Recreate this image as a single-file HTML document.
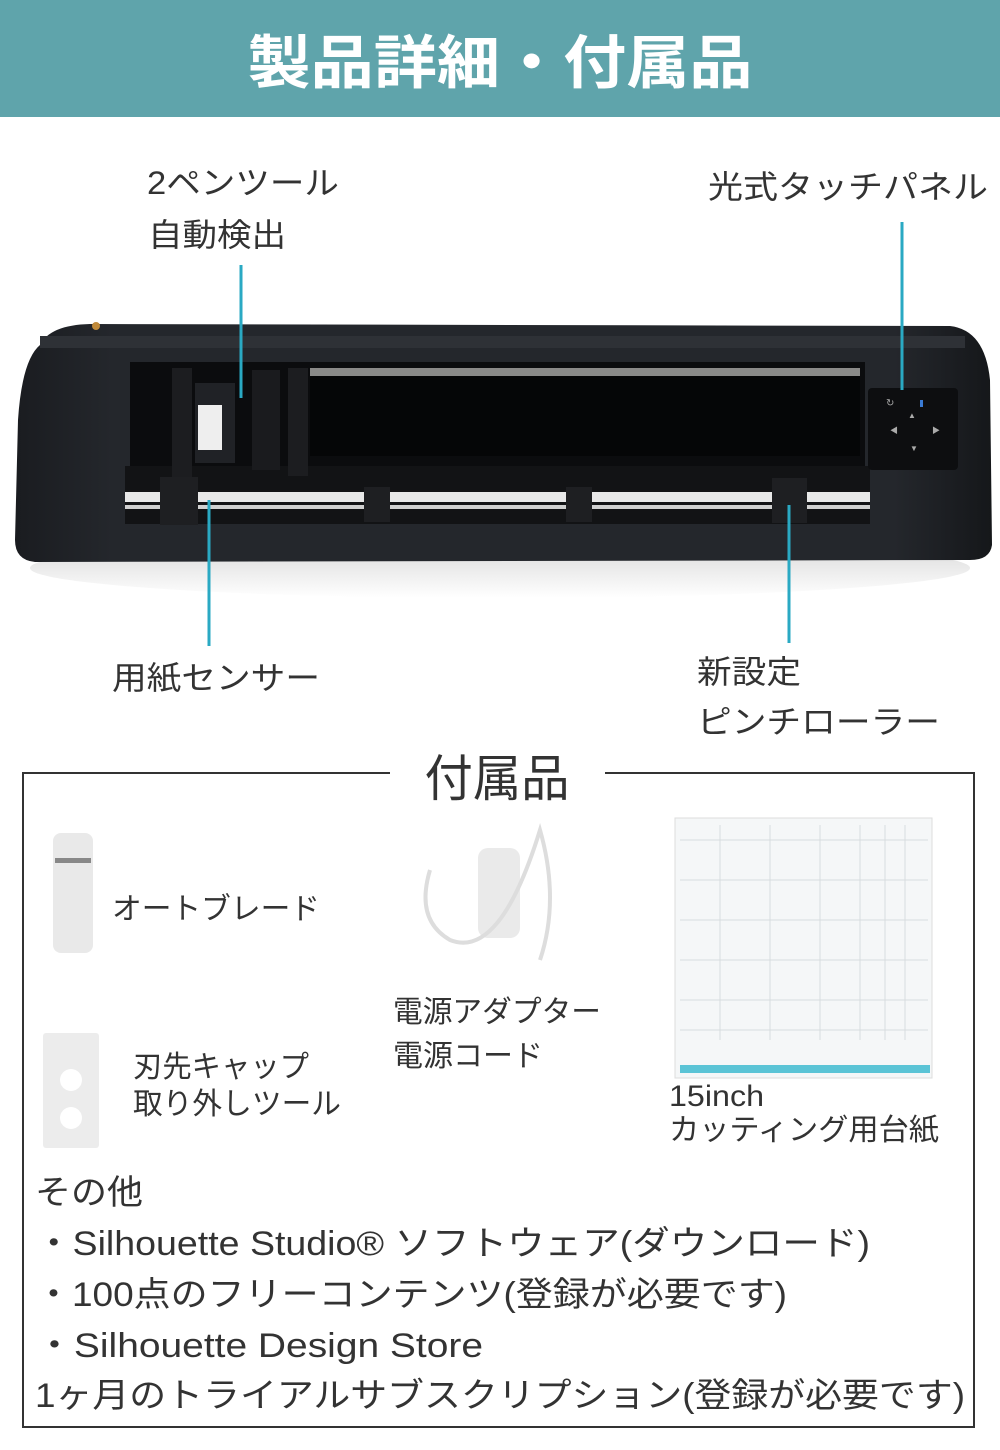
<!DOCTYPE html>
<html><head><meta charset="utf-8"><style>
html,body{margin:0;padding:0;background:#fff;}
svg{display:block;}
text{font-family:"Liberation Sans","Noto Sans CJK JP",sans-serif;fill:#333;}
</style></head><body>
<svg width="1000" height="1450" viewBox="0 0 1000 1450" xmlns="http://www.w3.org/2000/svg">
<defs>
<linearGradient id="sh" x1="0" y1="0" x2="0" y2="1"><stop offset="0" stop-color="#bbb"/><stop offset="1" stop-color="#fff"/></linearGradient>
<linearGradient id="body" x1="0" y1="0" x2="1" y2="0"><stop offset="0" stop-color="#1a1c20"/><stop offset="0.1" stop-color="#24272c"/><stop offset="0.9" stop-color="#24272c"/><stop offset="1" stop-color="#15171a"/></linearGradient>
</defs>
<rect x="0" y="0" width="1000" height="117" fill="#5fa4ab"/>
<text x="500" y="83" text-anchor="middle" font-size="58" font-weight="bold" style="fill:#fff" textLength="505" lengthAdjust="spacingAndGlyphs">製品詳細・付属品</text>

<!-- shadow -->
<ellipse cx="500" cy="568" rx="470" ry="30" fill="url(#sh)" opacity="0.6"/>
<!-- machine -->
<path d="M40 345 Q50 325 90 324 L950 326 Q985 330 990 380 L992 545 Q990 560 970 560 L35 562 Q15 560 15 540 L18 420 Q22 360 40 345Z" fill="url(#body)"/>
<rect x="40" y="336" width="925" height="12" fill="#2e3136"/>
<rect x="130" y="362" width="735" height="160" fill="#0b0c0e"/>
<rect x="310" y="368" width="550" height="8" fill="#8a8a88"/>
<rect x="310" y="376" width="550" height="80" fill="#050607"/>
<rect x="125" y="466" width="745" height="58" fill="#121315"/>
<rect x="125" y="492" width="745" height="10" fill="#e8e8e8"/>
<rect x="125" y="505" width="745" height="4" fill="#d0d0d0"/>
<rect x="172" y="368" width="20" height="130" fill="#1c1d20"/>
<rect x="195" y="383" width="40" height="80" fill="#202226"/>
<rect x="198" y="405" width="24" height="45" fill="#eee"/>
<rect x="252" y="370" width="28" height="100" fill="#1a1b1e"/>
<rect x="288" y="368" width="20" height="108" fill="#1c1d20"/>
<rect x="160" y="477" width="38" height="48" fill="#1e1f22"/>
<rect x="364" y="487" width="26" height="35" fill="#1e1f22"/>
<rect x="566" y="487" width="26" height="35" fill="#1e1f22"/>
<rect x="772" y="478" width="35" height="45" fill="#1e1f22"/>
<rect x="868" y="388" width="90" height="82" rx="4" fill="#0d0e10"/>
<text x="886" y="406" font-size="10" style="fill:#aaa">↻</text>
<text x="908" y="418" font-size="8" style="fill:#aaa">▲</text>
<text x="890" y="433" font-size="8" style="fill:#aaa">◀</text>
<text x="932" y="433" font-size="8" style="fill:#aaa">▶</text>
<text x="910" y="451" font-size="8" style="fill:#aaa">▼</text>
<rect x="920" y="400" width="3" height="7" fill="#3a7bd5"/>
<circle cx="96" cy="326" r="4" fill="#c08a3a"/>

<!-- teal lines -->
<g stroke="#2aa9c3" stroke-width="3">
<line x1="241" y1="265" x2="241" y2="398"/>
<line x1="902" y1="222" x2="902" y2="390"/>
<line x1="209" y1="500" x2="209" y2="646"/>
<line x1="789" y1="505" x2="789" y2="643"/>
</g>

<g font-size="32">
<text x="147" y="194" textLength="192" lengthAdjust="spacingAndGlyphs">2ペンツール</text>
<text x="148" y="246" textLength="138" lengthAdjust="spacingAndGlyphs">自動検出</text>
<text x="708" y="198" textLength="280" lengthAdjust="spacingAndGlyphs">光式タッチパネル</text>
<text x="112" y="689" textLength="208" lengthAdjust="spacingAndGlyphs">用紙センサー</text>
<text x="697" y="683" textLength="104" lengthAdjust="spacingAndGlyphs">新設定</text>
<text x="697" y="733" textLength="243" lengthAdjust="spacingAndGlyphs">ピンチローラー</text>
</g>

<!-- box -->
<path d="M390 773 L23 773 L23 1427 L974 1427 L974 773 L605 773" fill="none" stroke="#333" stroke-width="2"/>
<text x="497" y="796" text-anchor="middle" font-size="50" textLength="145" lengthAdjust="spacingAndGlyphs">付属品</text>

<!-- blade -->
<rect x="53" y="833" width="40" height="120" rx="8" fill="#e9e9e9"/>
<rect x="55" y="858" width="36" height="5" fill="#888"/>
<!-- cap tool -->
<rect x="43" y="1033" width="56" height="115" rx="3" fill="#ececec"/>
<circle cx="71" cy="1080" r="11" fill="#fff"/>
<circle cx="71" cy="1118" r="11" fill="#fff"/>
<!-- adapter -->
<rect x="478" y="848" width="42" height="90" rx="10" fill="#eaeaea"/>
<path d="M430 870 Q415 920 450 940 Q500 960 540 830 Q560 900 540 960" fill="none" stroke="#ddd" stroke-width="4"/>
<!-- mat -->
<rect x="675" y="818" width="257" height="260" fill="#f5f7f8" stroke="#ddd"/>
<g stroke="#d8dcdf" stroke-width="1">
<line x1="680" y1="840" x2="928" y2="840"/><line x1="680" y1="880" x2="928" y2="880"/><line x1="680" y1="920" x2="928" y2="920"/><line x1="680" y1="960" x2="928" y2="960"/><line x1="680" y1="1000" x2="928" y2="1000"/><line x1="680" y1="1030" x2="928" y2="1030"/>
<line x1="720" y1="825" x2="720" y2="1040"/><line x1="770" y1="825" x2="770" y2="1040"/><line x1="820" y1="825" x2="820" y2="1040"/><line x1="860" y1="825" x2="860" y2="1040"/><line x1="885" y1="825" x2="885" y2="1040"/><line x1="905" y1="825" x2="905" y2="1040"/>
</g>
<rect x="680" y="1065" width="250" height="8" fill="#5bc4d6"/>

<g font-size="30">
<text x="112" y="919" textLength="208" lengthAdjust="spacingAndGlyphs">オートブレード</text>
<text x="133" y="1077" textLength="176" lengthAdjust="spacingAndGlyphs">刃先キャップ</text>
<text x="133" y="1114" textLength="208" lengthAdjust="spacingAndGlyphs">取り外しツール</text>
<text x="393" y="1022" textLength="208" lengthAdjust="spacingAndGlyphs">電源アダプター</text>
<text x="393" y="1066" textLength="150" lengthAdjust="spacingAndGlyphs">電源コード</text>
<text x="669" y="1106" textLength="95" lengthAdjust="spacingAndGlyphs">15inch</text>
<text x="669" y="1140" textLength="270" lengthAdjust="spacingAndGlyphs">カッティング用台紙</text>
</g>
<g font-size="34">
<text x="35" y="1204" textLength="108" lengthAdjust="spacingAndGlyphs">その他</text>
<text x="35" y="1255" textLength="835" lengthAdjust="spacingAndGlyphs">・Silhouette Studio® ソフトウェア(ダウンロード)</text>
<text x="35" y="1306" textLength="752" lengthAdjust="spacingAndGlyphs">・100点のフリーコンテンツ(登録が必要です)</text>
<text x="35" y="1357" textLength="448" lengthAdjust="spacingAndGlyphs">・Silhouette Design Store</text>
<text x="35" y="1407" textLength="930" lengthAdjust="spacingAndGlyphs">1ヶ月のトライアルサブスクリプション(登録が必要です)</text>
</g>
</svg>
</body></html>
